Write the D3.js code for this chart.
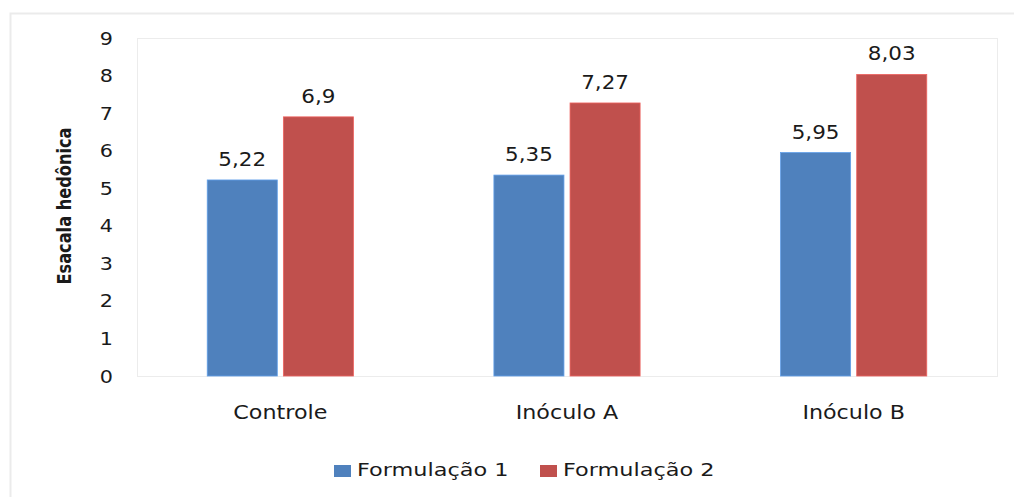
<!DOCTYPE html>
<html>
<head>
<meta charset="utf-8">
<script src="https://cdn.jsdelivr.net/npm/d3@7"></script>
<style>
  html, body { margin: 0; padding: 0; background: #fff; }
  svg { display: block; }
  text { font-family: "DejaVu Sans", sans-serif; fill: #1a1a1a; }
</style>
</head>
<body>
<svg id="chart" width="1014" height="497"></svg>
<script>
// ---- data ----
const categories = ["Controle", "Inóculo A", "Inóculo B"];
const seriesNames = ["Formulação 1", "Formulação 2"];
const formulacao1 = [5.22, 5.35, 5.95];
const formulacao2 = [6.9, 7.27, 8.03];
const valueLabels1 = ["5,22", "5,35", "5,95"];
const valueLabels2 = ["6,9", "7,27", "8,03"];
const yTicks = [0, 1, 2, 3, 4, 5, 6, 7, 8, 9];
const yTitle = "Esacala hedônica";

const colors = ["#4F81BD", "#C0504D"];
const seriesValues = [formulacao1, formulacao2];
const seriesLabels = [valueLabels1, valueLabels2];

const svg = d3.select("#chart");

function stretchedText(parent, x, y, str, anchor, size, sx) {
  const g = parent.append("g").attr("transform", `translate(${x},${y}) scale(${sx},1)`);
  return g.append("text")
    .attr("text-anchor", anchor)
    .attr("font-size", size)
    .text(str);
}

// outer chart frame (extends beyond right/bottom edges)
svg.append("rect")
  .attr("x", 10.5).attr("y", 13.5)
  .attr("width", 1014).attr("height", 497)
  .attr("fill", "none").attr("stroke", "#ebebeb").attr("stroke-width", 2);

const plot = { left: 137, right: 997, top: 38, bottom: 376 };

const x0 = d3.scaleBand().domain(categories)
  .range([plot.left, plot.right]).paddingInner(0.49).paddingOuter(0.245);
const x1 = d3.scaleBand().domain(d3.range(seriesNames.length))
  .range([0, x0.bandwidth()]).paddingInner(0.08);
const y = d3.scaleLinear().domain([0, 9]).range([plot.bottom, plot.top]);

// plot area border
svg.append("rect")
  .attr("x", plot.left + 0.5).attr("y", plot.top + 0.5)
  .attr("width", plot.right - plot.left).attr("height", plot.bottom - plot.top)
  .attr("fill", "none").attr("stroke", "#ececec").attr("stroke-width", 1);

// y axis (labels only)
const yAxisG = svg.append("g");
yTicks.forEach(t => {
  stretchedText(yAxisG, 113, y(t) + 6.5, String(t), "end", 18, 1.15);
});

// bars
const groups = svg.append("g").selectAll("g")
  .data(categories).join("g")
  .attr("transform", d => `translate(${x0(d)},0)`);

groups.each(function (cat, ci) {
  const g = d3.select(this);
  seriesValues.forEach((vals, si) => {
    g.append("rect")
      .attr("x", x1(si)).attr("y", y(vals[ci]))
      .attr("width", x1.bandwidth()).attr("height", y(0) - y(vals[ci]))
      .attr("fill", colors[si])
      .attr("stroke", d3.color(colors[si]).brighter(0.6)).attr("stroke-width", 0.8);
    stretchedText(g, x1(si) + x1.bandwidth() / 2, y(vals[ci]) - 14, seriesLabels[si][ci], "middle", 19, 1.13);
  });
});

// category labels
categories.forEach(c => {
  stretchedText(svg, x0(c) + x0.bandwidth() / 2, 419, c, "middle", 19, 1.17);
});

// y title
svg.append("text")
  .attr("transform", "translate(71,206) rotate(-90)")
  .attr("text-anchor", "middle")
  .attr("font-family", "'Liberation Sans Narrow', 'DejaVu Sans Condensed', sans-serif")
  .attr("font-size", 19)
  .attr("font-weight", "bold")
  .attr("textLength", 157)
  .attr("lengthAdjust", "spacingAndGlyphs")
  .text(yTitle);

// legend
const legendX = [334, 540];
seriesNames.forEach((name, i) => {
  svg.append("rect")
    .attr("x", legendX[i]).attr("y", 465)
    .attr("width", 17).attr("height", 12)
    .attr("fill", colors[i]);
  stretchedText(svg, legendX[i] + 23, 476, name, "start", 18.5, 1.21);
});
</script>
</body>
</html>
